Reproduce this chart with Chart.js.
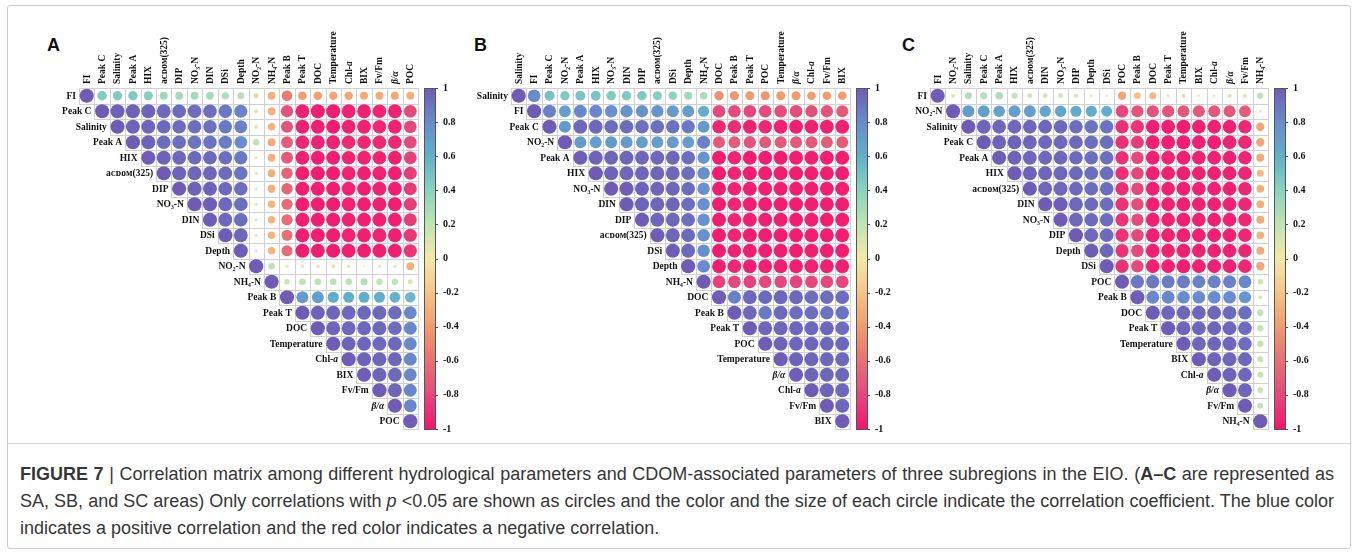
<!DOCTYPE html>
<html>
<head>
<meta charset="utf-8">
<script src="https://cdn.jsdelivr.net/npm/chart.js@4.4.0/dist/chart.umd.min.js"></script>
<style>
body { margin:0; background:#fff; width:1357px; height:552px; position:relative; overflow:hidden; font-family:"Liberation Sans", Arial, sans-serif; }
.frame { position:absolute; left:7px; top:5px; width:1342px; height:542px; border:1px solid #cdcdcd; border-radius:3px; }
.sep { position:absolute; left:8px; top:443px; width:1342px; height:1px; background:#d8d8d8; }
canvas { position:absolute; top:0; }
.tag { position:absolute; top:36px; font:bold 18px/1 "Liberation Sans", Arial, sans-serif; color:#111; }
.cap { position:absolute; left:20px; top:461px; width:1314px; font-size:18px; line-height:27px; color:#363636; }
.cap .j { text-align:justify; text-align-last:justify; white-space:nowrap; }
</style>
</head>
<body>
<div class="frame"></div>
<div class="sep"></div>
<div class="tag" style="left:47px">A</div>
<div class="tag" style="left:474px">B</div>
<div class="tag" style="left:902px">C</div>
<canvas id="panelA" width="433" height="440" style="left:30px"></canvas>
<canvas id="panelB" width="435" height="440" style="left:460px"></canvas>
<canvas id="panelC" width="433" height="440" style="left:880px"></canvas>
<div class="cap">
<div class="j"><b>FIGURE 7</b> | Correlation matrix among different hydrological parameters and CDOM-associated parameters of three subregions in the EIO. (<b>A–C</b> are represented as</div>
<div class="j">SA, SB, and SC areas) Only correlations with <i>p</i> &lt;0.05 are shown as circles and the color and the size of each circle indicate the correlation coefficient. The blue color</div>
<div>indicates a positive correlation and the red color indicates a negative correlation.</div>
</div>
<script>
// variables (rows = columns, upper triangle)
const labelsA = ['FI','Peak C','Salinity','Peak A','HIX','aᴄᴅᴏᴍ(325)','DIP','NO₃-N','DIN','DSi','Depth','NO₂-N','NH₄-N','Peak B','Peak T','DOC','Temperature','Chl-a','BIX','Fv/Fm','β/α','POC'];
const labelsB = ['Salinity','FI','Peak C','NO₂-N','Peak A','HIX','NO₃-N','DIN','DIP','aᴄᴅᴏᴍ(325)','DSi','Depth','NH₄-N','DOC','Peak B','Peak T','POC','Temperature','β/α','Chl-a','Fv/Fm','BIX'];
const labelsC = ['FI','NO₂-N','Salinity','Peak C','Peak A','HIX','aᴄᴅᴏᴍ(325)','DIN','NO₃-N','DIP','Depth','DSi','POC','Peak B','DOC','Peak T','Temperature','BIX','Chl-a','β/α','Fv/Fm','NH₄-N'];

// correlation coefficients, row i starts at the diagonal
const corrA = [
  [1,0.45,0.45,0.45,0.42,0.32,0.3,0.3,0.3,0.26,0.24,-0.12,-0.3,-0.55,-0.38,-0.38,-0.35,-0.35,-0.33,-0.32,-0.33,-0.3],
  [1,0.98,0.98,0.97,0.95,0.94,0.93,0.93,0.88,0.85,0.07,-0.3,-0.75,-0.95,-0.97,-0.97,-0.95,-0.95,-0.94,-0.95,-0.8],
  [1,0.97,0.96,0.94,0.93,0.92,0.92,0.88,0.85,0.07,-0.28,-0.74,-0.95,-0.96,-0.97,-0.95,-0.95,-0.93,-0.95,-0.8],
  [1,0.97,0.93,0.92,0.9,0.9,0.86,0.8,0.2,-0.32,-0.7,-0.93,-0.95,-0.95,-0.92,-0.93,-0.92,-0.93,-0.8],
  [1,0.97,0.95,0.94,0.94,0.92,0.88,0.05,-0.3,-0.72,-0.95,-0.96,-0.96,-0.94,-0.95,-0.94,-0.95,-0.82],
  [1,0.97,0.96,0.96,0.93,0.9,0.05,-0.3,-0.66,-0.96,-0.97,-0.97,-0.95,-0.96,-0.95,-0.96,-0.85],
  [1,0.98,0.97,0.94,0.92,0.05,-0.3,-0.65,-0.96,-0.97,-0.97,-0.95,-0.96,-0.95,-0.96,-0.85],
  [1,0.99,0.95,0.93,0.05,-0.28,-0.62,-0.96,-0.97,-0.97,-0.95,-0.96,-0.95,-0.96,-0.85],
  [1,0.95,0.93,0.05,-0.28,-0.62,-0.96,-0.97,-0.97,-0.95,-0.96,-0.95,-0.96,-0.85],
  [1,0.95,0.05,-0.28,-0.6,-0.96,-0.97,-0.97,-0.95,-0.96,-0.95,-0.96,-0.86],
  [1,0.05,-0.28,-0.62,-0.97,-0.97,-0.97,-0.96,-0.96,-0.96,-0.96,-0.87],
  [1,0.22,0.05,-0.05,-0.06,-0.07,0.06,0.02,0.05,-0.05,-0.3],
  [1,0.15,0.22,0.22,0.22,0.22,0.25,0.2,0.2,0.12],
  [1,0.72,0.7,0.62,0.6,0.6,0.6,0.58,0.55],
  [1,0.97,0.96,0.95,0.95,0.95,0.93,0.82],
  [1,0.96,0.95,0.95,0.95,0.93,0.82],
  [1,0.97,0.96,0.95,0.95,0.82],
  [1,0.97,0.96,0.95,0.82],
  [1,0.97,0.95,0.82],
  [1,0.96,0.82],
  [1,0.82],
  [1]
];
const corrB = [
  [1,0.8,0.5,0.45,0.48,0.48,0.45,0.45,0.45,0.42,0.38,0.33,0.28,-0.45,-0.42,-0.4,-0.42,-0.4,-0.4,-0.38,-0.38,-0.38],
  [1,0.85,0.7,0.82,0.82,0.78,0.76,0.76,0.75,0.72,0.7,0.6,-0.8,-0.78,-0.8,-0.78,-0.78,-0.78,-0.76,-0.75,-0.72],
  [1,0.72,0.95,0.95,0.93,0.93,0.92,0.92,0.9,0.88,0.72,-0.93,-0.9,-0.95,-0.93,-0.95,-0.96,-0.95,-0.95,-0.95],
  [1,0.72,0.7,0.72,0.72,0.7,0.7,0.72,0.7,0.85,-0.72,-0.7,-0.75,-0.72,-0.72,-0.72,-0.72,-0.7,-0.7],
  [1,0.97,0.96,0.96,0.95,0.95,0.95,0.93,0.75,-0.97,-0.93,-0.97,-0.96,-0.97,-0.97,-0.96,-0.96,-0.96],
  [1,0.97,0.96,0.96,0.96,0.95,0.93,0.77,-0.97,-0.93,-0.97,-0.96,-0.97,-0.97,-0.96,-0.96,-0.96],
  [1,0.99,0.97,0.96,0.96,0.93,0.77,-0.97,-0.94,-0.97,-0.96,-0.97,-0.97,-0.96,-0.96,-0.96],
  [1,0.97,0.96,0.96,0.93,0.78,-0.97,-0.94,-0.97,-0.96,-0.97,-0.97,-0.96,-0.96,-0.96],
  [1,0.96,0.95,0.93,0.78,-0.97,-0.94,-0.97,-0.96,-0.97,-0.97,-0.96,-0.96,-0.96],
  [1,0.96,0.94,0.78,-0.97,-0.94,-0.97,-0.96,-0.97,-0.97,-0.96,-0.96,-0.96],
  [1,0.95,0.78,-0.97,-0.94,-0.97,-0.96,-0.97,-0.97,-0.96,-0.96,-0.96],
  [1,0.8,-0.96,-0.93,-0.96,-0.95,-0.96,-0.96,-0.95,-0.95,-0.95],
  [1,-0.82,-0.8,-0.83,-0.8,-0.8,-0.82,-0.8,-0.8,-0.8],
  [1,0.85,0.95,0.94,0.95,0.95,0.93,0.92,0.93],
  [1,0.95,0.88,0.95,0.93,0.92,0.9,0.9],
  [1,0.96,0.96,0.96,0.95,0.95,0.93],
  [1,0.97,0.96,0.96,0.95,0.95],
  [1,0.97,0.96,0.95,0.95],
  [1,0.97,0.96,0.95],
  [1,0.97,0.95],
  [1,0.96],
  [1]
];
const corrC = [
  [1,0.08,0.25,0.25,0.28,0.18,0.12,0.12,0.12,0.1,0.03,0.03,-0.35,-0.22,-0.25,-0.05,-0.08,-0.03,-0.03,0.08,0.08,0.2],
  [1,0.72,0.7,0.68,0.7,0.7,0.65,0.65,0.62,0.62,0.6,-0.8,-0.75,-0.75,-0.75,-0.72,-0.72,-0.72,-0.72,-0.7,-0.03],
  [1,0.96,0.95,0.95,0.95,0.95,0.94,0.93,0.9,0.9,-0.9,-0.88,-0.96,-0.96,-0.97,-0.95,-0.95,-0.95,-0.92,-0.35],
  [1,0.97,0.97,0.96,0.95,0.95,0.94,0.92,0.92,-0.9,-0.85,-0.96,-0.96,-0.97,-0.95,-0.96,-0.95,-0.93,-0.35],
  [1,0.97,0.96,0.95,0.95,0.94,0.92,0.92,-0.9,-0.8,-0.96,-0.95,-0.96,-0.95,-0.95,-0.95,-0.93,-0.32],
  [1,0.97,0.96,0.96,0.95,0.93,0.93,-0.9,-0.8,-0.96,-0.95,-0.96,-0.95,-0.95,-0.95,-0.93,-0.25],
  [1,0.96,0.96,0.95,0.93,0.93,-0.9,-0.8,-0.96,-0.95,-0.96,-0.95,-0.95,-0.95,-0.93,-0.3],
  [1,0.99,0.96,0.94,0.93,-0.88,-0.78,-0.96,-0.95,-0.96,-0.95,-0.95,-0.95,-0.93,-0.3],
  [1,0.96,0.94,0.93,-0.88,-0.78,-0.96,-0.95,-0.96,-0.95,-0.95,-0.95,-0.93,-0.32],
  [1,0.95,0.94,-0.88,-0.8,-0.96,-0.95,-0.96,-0.95,-0.95,-0.95,-0.93,-0.3],
  [1,0.95,-0.88,-0.8,-0.96,-0.95,-0.96,-0.95,-0.95,-0.95,-0.93,-0.32],
  [1,-0.88,-0.78,-0.95,-0.95,-0.96,-0.95,-0.95,-0.95,-0.93,-0.35],
  [1,0.88,0.88,0.86,0.86,0.85,0.85,0.85,0.82,0.15],
  [1,0.82,0.82,0.8,0.8,0.8,0.8,0.75,0.08],
  [1,0.96,0.95,0.95,0.95,0.94,0.92,0.2],
  [1,0.96,0.95,0.95,0.95,0.93,0.2],
  [1,0.96,0.96,0.96,0.93,0.2],
  [1,0.97,0.96,0.95,0.18],
  [1,0.97,0.95,0.18],
  [1,0.96,0.18],
  [1,0.18],
  [1]
];

// colour bar tick labels
const cbTicks = [1,0.8,0.6,0.4,0.2,0,-0.2,-0.4,-0.6,-0.8,-1];

const SERIF = '"Liberation Serif", "Times New Roman", serif';
const stops = [
  [-1,[245,20,110]], [-0.8,[228,72,125]], [-0.6,[232,112,115]], [-0.4,[240,155,112]],
  [-0.2,[246,196,135]], [0,[243,232,168]], [0.2,[192,228,178]], [0.4,[138,210,192]],
  [0.6,[96,176,202]], [0.8,[104,140,206]], [1,[110,92,182]]
];
const rgb = c => 'rgb(' + c.map(Math.round).join(',') + ')';
function colorFor(v) {
  for (let k = 1; k < stops.length; k++) {
    if (v <= stops[k][0]) {
      const a = stops[k-1], b = stops[k];
      const t = (v - a[0]) / (b[0] - a[0]);
      return rgb(a[1].map((c, i) => c + (b[1][i] - c) * t));
    }
  }
  return rgb(stops[stops.length-1][1]);
}

// label text with the italic bits (Chl-a, beta/alpha)
function drawLabel(ctx, lab, px, py, align) {
  let segs = [[lab, '']];
  if (lab === 'Chl-a') segs = [['Chl-', ''], ['a', 'italic ']];
  if (lab === 'β/α') segs = [['β/α', 'italic ']];
  let total = 0;
  segs.forEach(s => { ctx.font = s[1] + 'bold 9.5px ' + SERIF; s.w = ctx.measureText(s[0]).width; total += s.w; });
  let cx = align === 'right' ? px - total : px;
  ctx.textAlign = 'left';
  segs.forEach(s => { ctx.font = s[1] + 'bold 9.5px ' + SERIF; ctx.fillText(s[0], cx, py); cx += s.w; });
}

function makePanel(id, labels, corr, padLeft) {
  const n = labels.length;
  const pts = [];
  corr.forEach((row, i) => row.forEach((v, k) => pts.push({x: i + k, y: i, v: v})));
  const cellW = c => Math.abs(c.scales.x.getPixelForValue(1) - c.scales.x.getPixelForValue(0));
  const cellH = c => Math.abs(c.scales.y.getPixelForValue(1) - c.scales.y.getPixelForValue(0));

  const matrixPlugin = {
    id: 'matrix',
    beforeDatasetsDraw(chart) {
      const ctx = chart.ctx, x = chart.scales.x, y = chart.scales.y;
      const w = cellW(chart), h = cellH(chart);
      ctx.save();
      ctx.strokeStyle = '#d0d0d0';
      ctx.lineWidth = 1;
      for (let i = 0; i < n; i++) {
        for (let j = i; j < n; j++) {
          const l = Math.round(x.getPixelForValue(j) - w / 2) + 0.5;
          const r = Math.round(x.getPixelForValue(j) + w / 2) + 0.5;
          const t = Math.round(y.getPixelForValue(i) - h / 2) + 0.5;
          const b = Math.round(y.getPixelForValue(i) + h / 2) + 0.5;
          ctx.strokeRect(l, t, r - l, b - t);
        }
      }
      ctx.fillStyle = '#111';
      ctx.textBaseline = 'middle';
      // row names next to the diagonal
      labels.forEach((lab, i) => drawLabel(ctx, lab, x.getPixelForValue(i) - w / 2 - 3, y.getPixelForValue(i) + 0.5, 'right'));
      // column names above the grid, reading upwards
      labels.forEach((lab, j) => {
        ctx.save();
        ctx.translate(x.getPixelForValue(j) + 0.5, chart.chartArea.top - 4);
        ctx.rotate(-Math.PI / 2);
        drawLabel(ctx, lab, 0, 0, 'left');
        ctx.restore();
      });
      // colour bar
      const cb = chart.scales.cb;
      const bx = Math.round(cb.left) + 6, bw = 11;
      const g = ctx.createLinearGradient(0, cb.bottom, 0, cb.top);
      stops.forEach(s => g.addColorStop((s[0] + 1) / 2, rgb(s[1])));
      ctx.fillStyle = g;
      ctx.fillRect(bx, cb.top, bw, cb.bottom - cb.top);
      ctx.strokeStyle = '#555';
      ctx.strokeRect(bx + 0.5, Math.round(cb.top) + 0.5, bw, Math.round(cb.bottom - cb.top));
      cb.ticks.forEach(tk => {
        const py = Math.round(cb.getPixelForValue(tk.value)) + 0.5;
        ctx.beginPath();
        ctx.moveTo(bx + bw, py);
        ctx.lineTo(bx + bw + 3, py);
        ctx.stroke();
      });
      ctx.restore();
    }
  };

  return new Chart(document.getElementById(id), {
    type: 'scatter',
    data: {
      datasets: [{
        data: pts,
        pointRadius: c => c.raw ? cellW(c.chart) * 0.46 * Math.sqrt(Math.abs(c.raw.v)) : 0,
        pointHoverRadius: c => c.raw ? cellW(c.chart) * 0.46 * Math.sqrt(Math.abs(c.raw.v)) : 0,
        pointBackgroundColor: c => c.raw ? colorFor(c.raw.v) : '#000',
        pointBorderWidth: 0,
        clip: false
      }]
    },
    options: {
      responsive: false,
      animation: false,
      events: [],
      layout: { padding: { left: padLeft, top: 0, right: 0, bottom: 11 } },
      plugins: { legend: { display: false }, tooltip: { enabled: false } },
      scales: {
        x: {
          type: 'linear', position: 'top', min: -0.5, max: n - 0.5,
          afterFit: s => { s.height = 88; },
          grid: { display: false, drawTicks: false },
          border: { display: false },
          ticks: { display: false }
        },
        y: { type: 'linear', display: false, reverse: true, min: -0.5, max: n - 0.5 },
        cb: {
          type: 'linear', position: 'right', min: -1, max: 1,
          afterBuildTicks: s => { s.ticks = cbTicks.map(v => ({ value: v })); },
          afterFit: s => { s.width = 45; },
          grid: { drawOnChartArea: false, drawTicks: true, tickLength: 20, color: 'rgba(0,0,0,0)' },
          border: { display: false },
          ticks: {
            padding: 5, color: '#111', autoSkip: false,
            font: { family: SERIF, size: 10, weight: 'bold' },
            callback: v => String(Math.round(v * 10) / 10)
          }
        }
      }
    },
    plugins: [matrixPlugin]
  });
}

makePanel('panelA', labelsA, corrA, 49);
makePanel('panelB', labelsB, corrB, 51);
makePanel('panelC', labelsC, corrC, 50);
</script>
</body>
</html>
